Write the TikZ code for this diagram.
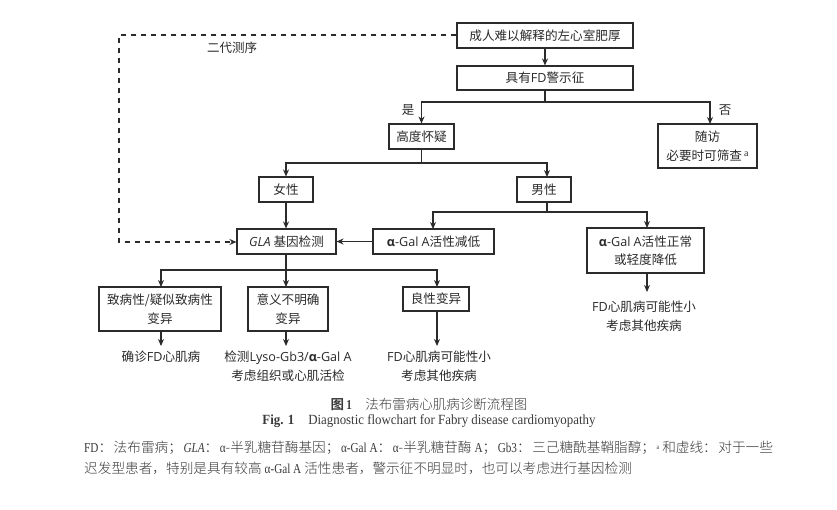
\documentclass[tikz,border=0pt]{standalone}
\usepackage{fontspec}
\setmainfont{Noto Sans CJK SC}
\newfontfamily\lat{Open Sans}
\newfontfamily\capfont{Noto Sans CJK SC}[UprightFont=* Light,BoldFont=* Bold]
\newfontfamily\capserif{Liberation Serif}[FakeStretch=0.82]
\newfontfamily\figserif{Liberation Serif}[FakeStretch=0.92]
\newcommand{\alphagal}{{\lat{\bfseries α}-Gal A}}
\newcommand{\pgap}{\hspace{1.55pt}}
\usetikzlibrary{arrows.meta,positioning}
\definecolor{ink}{HTML}{2B2B2B}
\definecolor{capink}{HTML}{3A3A3A}
\tikzset{
  x=1pt,y=-1pt,
  flow/.style={draw=ink,line width=1.1pt,-{Stealth[length=7pt,width=6pt]}},
  plainline/.style={draw=ink,line width=1.1pt},
  dashflow/.style={draw=ink,line width=1.1pt,dash pattern=on 5.5pt off 4.5pt,-{Stealth[length=7pt,width=6pt]}},
  boxed/.style={draw=ink,line width=1.1pt,inner sep=0pt,align=center,text=ink,font=\fontsize{12.6}{18.5}\selectfont,anchor=center},
  freetext/.style={inner sep=0pt,align=center,text=ink,font=\fontsize{12.6}{19}\selectfont,anchor=center},
  captext/.style={inner sep=0pt,text=capink,anchor=center},
  capleft/.style={inner sep=0pt,text=capink,anchor=west,font=\capfont\fontsize{13.65}{15}\selectfont}
}
\begin{document}
\begin{tikzpicture}
\useasboundingbox (0,0) rectangle (837,510);
\fill[white] (0,0) rectangle (837,510);
% boxes
\node[boxed,minimum width=176pt,minimum height=25pt] (lvh) at (545,35.5) {成人难以解释的左心室肥厚};
\node[boxed,minimum width=176pt,minimum height=24pt] (warn) at (545,78) {具有{\lat FD}警示征};
\node[boxed,minimum width=65pt,minimum height=25pt] (susp) at (421.5,136.5) {高度怀疑};
\node[boxed,minimum width=99pt,minimum height=44pt] (fu) at (707.5,146) {随访\\必要时可筛查\,\raisebox{4pt}{\fontspec{Liberation Serif}\fontsize{10}{10}\selectfont a}};
\node[boxed,minimum width=54pt,minimum height=25pt] (fem) at (286,189.5) {女性};
\node[boxed,minimum width=54pt,minimum height=25pt] (male) at (544,189.5) {男性};
\node[boxed,minimum width=99pt,minimum height=25pt] (gla) at (286.5,241.5) {{\lat\itshape GLA} 基因检测};
\node[boxed,minimum width=121pt,minimum height=25pt] (low) at (433.5,241.5) {\alphagal 活性减低};
\node[boxed,minimum width=117pt,minimum height=45pt] (norm) at (645.5,250.5) {\alphagal 活性正常\\或轻度降低};
\node[boxed,minimum width=122pt,minimum height=44pt] (path) at (160,309) {致病性/疑似致病性\\变异};
\node[boxed,minimum width=80pt,minimum height=44pt] (vus) at (288,309) {意义不明确\\变异};
\node[boxed,minimum width=66pt,minimum height=24pt] (ben) at (436,299) {良性变异};
% outcome labels
\node[freetext] (dx) at (161,357) {确诊{\lat FD}心肌病};
\node[freetext] (test) at (288,366) {检测{\lat Lyso-Gb3/{\bfseries α}-Gal A}\\考虑组织或心肌活检};
\node[freetext] (unl) at (439,366) {{\lat FD}心肌病可能性小\\考虑其他疾病};
\node[freetext] (unr) at (644,316) {{\lat FD}心肌病可能性小\\考虑其他疾病};
\node[freetext,font=\fontsize{12.5}{14}\selectfont] (ngs) at (232,47.5) {二代测序};
\node[freetext,font=\fontsize{12.5}{14}\selectfont] (yes) at (408,110) {是};
\node[freetext,font=\fontsize{12.5}{14}\selectfont] (no) at (725,110) {否};
% junctions and free ends
\coordinate (j1) at (545,102);
\coordinate (j2) at (421,163);
\coordinate (j3) at (547,212);
\coordinate (j4) at (286,270);
\coordinate (dl) at (119,35);
\coordinate (dr) at (119,242);
\coordinate (e1) at (161,346);
\coordinate (e2) at (286,346);
\coordinate (e3) at (437,346);
\coordinate (e4) at (647,292);
% connectors
\draw[flow] (lvh.south) -- (warn.north);
\draw[plainline] (warn.south) -- (j1);
\draw[flow] (j1) -| (susp.north);
\draw[flow] (j1) -| (710,124);
\draw[plainline] (susp.south) -- (susp.south |- j2);
\draw[flow] (susp.south |- j2) -| (fem.north);
\draw[flow] (susp.south |- j2) -| (547,177);
\draw[flow] (fem.south) -- (gla.north -| fem.south);
\draw[plainline] (547,202) -- (j3);
\draw[flow] (j3) -| (433,229);
\draw[flow] (j3) -| (647,228);
\draw[flow] (low.west) -- (gla.east);
\draw[dashflow] (lvh.west |- dl) -- (dl) -- (dr) -- (gla.west |- dr);
\draw[plainline] (286,254) -- (j4);
\draw[flow] (j4) -| (161,287);
\draw[flow] (j4) -- (286,287);
\draw[flow] (j4) -| (437,287);
\draw[flow] (161,331) -- (e1);
\draw[flow] (286,331) -- (e2);
\draw[flow] (437,311) -- (e3);
\draw[flow] (647,273) -- (e4);
% caption
\node[captext,font=\capfont\fontsize{13.5}{15}\selectfont] (c1) at (429,404) {\textbf{图\,{\capserif 1}}\quad 法布雷病心肌病诊断流程图};
\node[captext,font=\fontsize{14}{15}\selectfont] (c2) at (429,421.5) {{\figserif\bfseries Fig. 1}\quad{\figserif Diagnostic flowchart for Fabry disease cardiomyopathy}};
\node[capleft] (c3) at (84,448) {{\capserif FD}：\pgap 法布雷病；\pgap{\capserif\itshape GLA}：\pgap{\capserif α}-半乳糖苷酶基因；\pgap{\capserif α-Gal A}：\pgap{\capserif α}-半乳糖苷酶 {\capserif A}；\pgap{\capserif Gb3}：\pgap 三己糖酰基鞘脂醇；\pgap{\capserif\raisebox{3pt}{\fontsize{7}{7}\selectfont a}} 和虚线：\pgap 对于一些};
\node[capleft] (c4) at (84,468) {迟发型患者，特别是具有较高 {\capserif α-Gal A} 活性患者，警示征不明显时，也可以考虑进行基因检测};
\end{tikzpicture}
\end{document}
